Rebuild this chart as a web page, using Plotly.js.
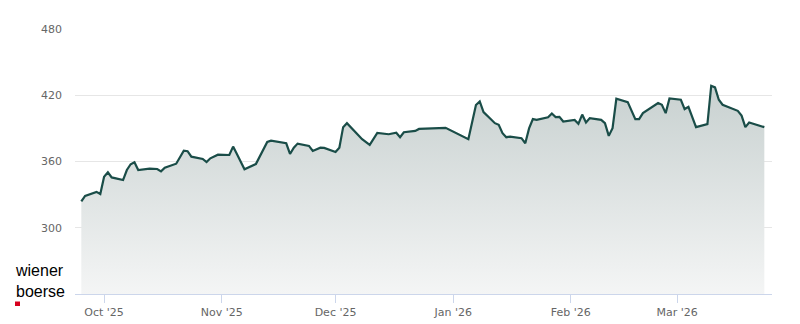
<!DOCTYPE html>
<html>
<head>
<meta charset="utf-8">
<script src="https://cdn.plot.ly/plotly-3.0.1.min.js"></script>
<style>
  html, body { margin: 0; padding: 0; background: #ffffff; }
  #chart { width: 800px; height: 324px; }
</style>
</head>
<body>
<div id="chart"></div>
<script>
// Trading dates (kink points)
const dates = [
  "2025-09-25","2025-09-26","2025-09-29","2025-09-30",
  "2025-10-01","2025-10-02","2025-10-03","2025-10-06","2025-10-07","2025-10-08","2025-10-09","2025-10-10",
  "2025-10-13","2025-10-15","2025-10-16","2025-10-17","2025-10-20","2025-10-22","2025-10-23","2025-10-24",
  "2025-10-27","2025-10-28","2025-10-29","2025-10-31",
  "2025-11-03","2025-11-04","2025-11-05","2025-11-07","2025-11-10","2025-11-13","2025-11-14",
  "2025-11-18","2025-11-19","2025-11-20","2025-11-21","2025-11-24","2025-11-25","2025-11-27","2025-11-28",
  "2025-12-01","2025-12-02","2025-12-03","2025-12-04","2025-12-08","2025-12-10","2025-12-12",
  "2025-12-15","2025-12-17","2025-12-18","2025-12-19","2025-12-22","2025-12-23","2025-12-30",
  "2026-01-02","2026-01-05","2026-01-07","2026-01-08","2026-01-09","2026-01-12","2026-01-13","2026-01-14",
  "2026-01-15","2026-01-16","2026-01-19","2026-01-20","2026-01-21","2026-01-22","2026-01-23",
  "2026-01-26","2026-01-27","2026-01-28","2026-01-29","2026-01-30",
  "2026-02-02","2026-02-03","2026-02-04","2026-02-05","2026-02-06","2026-02-09","2026-02-10","2026-02-11",
  "2026-02-12","2026-02-13","2026-02-16","2026-02-18","2026-02-19","2026-02-20","2026-02-24","2026-02-25",
  "2026-02-26","2026-02-27",
  "2026-03-02","2026-03-03","2026-03-04","2026-03-06","2026-03-09","2026-03-10","2026-03-11","2026-03-12",
  "2026-03-13","2026-03-17","2026-03-18","2026-03-19","2026-03-20","2026-03-24"
];
const prices = [
  323.8,328.9,332.5,330.5,
  346.2,350.2,345.6,343.2,352.3,357.5,359.3,352.3,
  353.5,353.2,351.1,354.4,358.0,369.8,369.3,364.4,
  362.3,359.5,362.9,366.2,
  365.9,373.5,366.8,352.9,357.7,377.7,378.9,
  376.5,366.8,372.5,376.2,374.1,369.5,372.5,372.3,
  368.6,372.5,391.1,394.7,380.2,375.0,385.8,
  384.7,386.0,382.0,386.5,387.7,389.5,390.5,
  385.0,380.2,411.1,414.4,404.7,394.7,393.2,385.6,
  382.0,382.5,381.1,376.5,390.0,398.4,397.7,
  400.0,403.5,400.2,400.5,396.2,
  397.7,394.1,402.5,395.3,399.3,397.7,394.7,383.2,
  390.2,416.8,413.8,398.4,398.4,403.8,412.9,411.4,
  403.8,417.1,
  415.9,407.5,409.5,391.1,393.8,428.6,427.1,415.9,
  411.4,405.9,401.6,391.1,395.3,391.1
];
const yTicks = [300, 360, 420, 480];
const xTicks = ["2025-10-01","2025-11-01","2025-12-01","2026-01-01","2026-02-01","2026-03-01"];
const xRange = ["2025-09-23 08:00", "2026-03-26 00:30"];
const yRange = [240, 480];
const logoLines = ["wiener", "boerse"];

const trace = {
  type: "scatter",
  mode: "lines",
  x: dates,
  y: prices,
  line: { color: "#1a4d48", width: 2.2 },
  fill: "tozeroy",
  fillgradient: {
    type: "vertical",
    start: 240,
    stop: 480,
    colorscale: [[0, "#f4f5f5"], [1, "#bcc7c6"]]
  },
  hoverinfo: "skip"
};

const logoFont = { family: "Liberation Sans, Arial, sans-serif", size: 16, color: "#000000" };

const layout = {
  width: 800,
  height: 324,
  margin: { l: 75, r: 28, t: 29, b: 30 },
  paper_bgcolor: "#ffffff",
  plot_bgcolor: "#ffffff",
  showlegend: false,
  font: { family: "DejaVu Sans", size: 11, color: "#666666" },
  xaxis: {
    type: "date",
    range: xRange,
    tickvals: xTicks,
    tickformat: "%b '%y",
    ticks: "outside",
    ticklen: 8,
    tickcolor: "#ccd6eb",
    showline: true,
    linecolor: "#ccd6eb",
    linewidth: 1,
    showgrid: false,
    zeroline: false,
    fixedrange: true,
    tickfont: { family: "DejaVu Sans", size: 11, color: "#666666" }
  },
  yaxis: {
    range: yRange,
    tickvals: yTicks,
    ticktext: yTicks.map(String),
    showgrid: true,
    gridcolor: "#e6e6e6",
    gridwidth: 1,
    zeroline: false,
    showline: false,
    ticks: "",
    ticklabelstandoff: 12,
    fixedrange: true,
    tickfont: { family: "DejaVu Sans", size: 11, color: "#666666" }
  },
  annotations: [
    { text: logoLines.join("<br>"), xref: "paper", yref: "paper", x: -0.0875, y: 0.124,
      xanchor: "left", yanchor: "top", align: "left", showarrow: false, borderpad: 0, font: logoFont }
  ],
  shapes: [
    { type: "rect", xref: "paper", yref: "paper",
      x0: -0.0861, x1: -0.0789, y0: -0.0453, y1: -0.0283,
      fillcolor: "#d7001e", line: { width: 0 } }
  ]
};

Plotly.newPlot("chart", [trace], layout, { displayModeBar: false, staticPlot: true });
</script>
</body>
</html>
